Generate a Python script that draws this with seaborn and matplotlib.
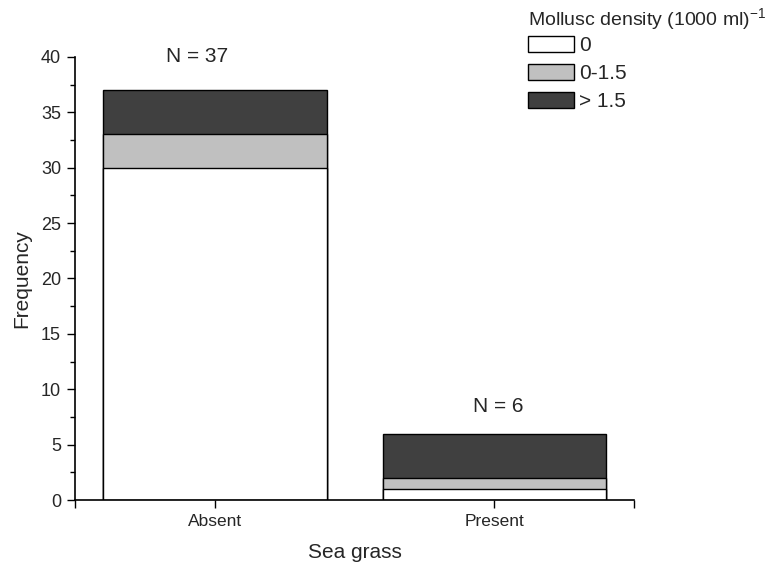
import numpy as np
import pandas as pd
import matplotlib
matplotlib.use("Agg")
import matplotlib.pyplot as plt
import seaborn as sns
from matplotlib.patches import Patch
from matplotlib.ticker import MultipleLocator

categories = ["Absent", "Present"]
series_names = ["0", "0-1.5", "> 1.5"]
val_zero = [30, 1]
val_low = [3, 1]
val_high = [4, 4]
n_labels = ["N = 37", "N = 6"]
n_label_y = [40.0, 8.4]
colors = ["#ffffff", "#c0c0c0", "#404040"]

sns.set_theme(style="ticks")
plt.rcParams['font.family'] = ['Liberation Sans', 'DejaVu Sans']

fig = plt.figure(figsize=(7.81, 5.71), dpi=100)
ax = fig.add_axes([0.096, 0.1243, 0.716, 0.776])

cum1 = np.array(val_zero)
cum2 = cum1 + np.array(val_low)
cum3 = cum2 + np.array(val_high)

for vals, col in [(cum3, colors[2]), (cum2, colors[1]), (cum1, colors[0])]:
    df = pd.DataFrame({"cat": categories, "val": vals})
    sns.barplot(data=df, x="cat", y="val", color=col, edgecolor="black",
                linewidth=1.0, width=0.8, saturation=1, ax=ax, zorder=2)

ax.set_xlim(-0.5, 1.5)
ax.set_ylim(0, 40)
ax.yaxis.set_major_locator(MultipleLocator(5))
ax.yaxis.set_minor_locator(MultipleLocator(2.5))
ax.tick_params(axis="y", which="major", direction="out", length=6, width=1, labelsize=13, color="black", pad=4)
ax.tick_params(axis="y", which="minor", direction="out", length=3.5, width=1, color="black")
ax.tick_params(axis="x", which="major", direction="out", length=6, width=1, labelsize=12.5, color="black", pad=4)
ax.set_xticks([-0.5, 0, 1, 1.5])
ax.set_xticklabels(["", "Absent", "Present", ""])

for s in ["top", "right"]:
    ax.spines[s].set_visible(False)
for s in ["left", "bottom"]:
    ax.spines[s].set_linewidth(1.2)
    ax.spines[s].set_color("black")

ax.set_xlabel("Sea grass", fontsize=15, labelpad=10)
ax.set_ylabel("Frequency", fontsize=15, labelpad=7)

text_x = [-0.065, 1.015]
for i, t in enumerate(n_labels):
    ax.text(text_x[i], n_label_y[i], t, ha="center", va="center", fontsize=15)

handles = [Patch(facecolor=c, edgecolor="black", linewidth=1.0) for c in colors]
leg = fig.legend(handles, series_names,
                 title="Mollusc density (1000 ml)$^{\\mathregular{-1}}$",
                 loc="upper left", bbox_to_anchor=(0.66, 1.01), frameon=False,
                 fontsize=15, title_fontsize=14, handlelength=2.2, handleheight=0.8,
                 handletextpad=0.25, labelspacing=0.42, borderaxespad=0.2)
leg._legend_box.align = "left"
leg._legend_box.sep = 2

fig.savefig("out.png", dpi=100)
